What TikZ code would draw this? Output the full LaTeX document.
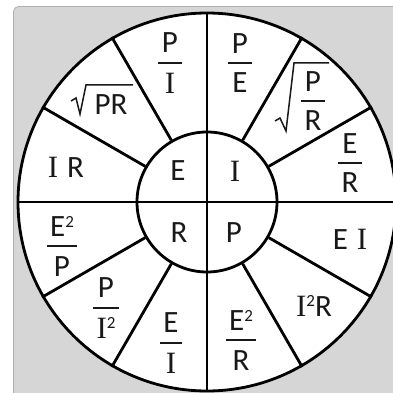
\documentclass[tikz,border=0pt]{standalone}
\usepackage{fontspec}
\setmainfont{Carlito}
\newfontfamily\serifface{Liberation Serif}
\newcommand\Iser{{\serifface I}}
\newcommand\sqr{\raisebox{9.2pt}{\fontsize{17}{20}\selectfont 2}}
\newcommand\fr[2]{\begingroup\setbox0\hbox{#1}\setbox2\hbox{#2}%
  \dimen0=\ifdim\wd0>\wd2 \wd0\else\wd2\fi\advance\dimen0 by 7pt%
  \vbox{\offinterlineskip\halign{\hfil##\hfil\cr\box0\cr\noalign{\kern9pt}%
  \vrule width\dimen0 height 1.9pt depth 0pt\cr\noalign{\kern9pt}\box2\cr}}\endgroup}
\definecolor{bggray}{RGB}{215,214,215}
\definecolor{bgedge}{RGB}{175,175,175}
\definecolor{ink}{RGB}{25,25,25}
\begin{document}
\begin{tikzpicture}[x=1pt,y=-1pt,
  lab/.style={inner sep=0pt, text=ink, font=\fontsize{31}{36}\selectfont},
  ring/.style={circle, draw=black, line width=2.8pt, inner sep=0pt},
  spoke/.style={draw=black, line width=2.8pt},
  rad/.style={draw=ink, line width=1.5pt, line join=miter}]
\useasboundingbox (0,0) rectangle (393,393);
\fill[white] (0,0) rectangle (393,393);
\draw[fill=bggray, draw=bgedge, line width=0.8pt, rounded corners=5pt] (13.5,6.5) rectangle (420,420);
\coordinate (c) at (207,202);
\node[ring, fill=white, minimum size=378pt] (outer) at (c) {};
\node[ring, minimum size=140pt] (inner) at (c) {};
\foreach \a in {30,60,120,150,210,240,300,330}
  \draw[spoke] (inner.\a) -- (outer.\a);
\draw[spoke] (outer.90) -- (outer.270);
\draw[spoke] (outer.180) -- (outer.0);
% inner letters
\node[lab] (nE) at (178,171) {E};
\node[lab] (nI) at (235,171) {\Iser};
\node[lab] (nR) at (179,233) {R};
\node[lab] (nP) at (234,233) {P};
% outer ring
\node[lab] (pi) at (170,63) {\fr{P}{\Iser}};
\node[lab] (pe) at (240,63) {\fr{P}{E}};
\node[lab] (pr) at (111,105) {PR};
\draw[rad] (71,101) -- (76,98) -- (80,114) -- (86,85) -- (133,85);
\node[lab] (ir) at (66,167) {\Iser\hspace{9pt}R};
\node[lab] (pR) at (313,101) {\fr{P}{R}};
\draw[rad] (275,121) -- (280,118) -- (286,131) -- (294,63) -- (329,63);
\node[lab] (er) at (350,163) {\fr{E}{R}};
\node[lab] (ei) at (350,239) {E\hspace{9pt}\Iser};
\node[lab] (i2r) at (314,306) {\Iser\sqr R};
\node[lab] (e2r) at (241,340) {\fr{E\sqr}{R}};
\node[lab] (ei2) at (171,343) {\fr{E}{\Iser}};
\node[lab] (pi2) at (106,308) {\fr{P}{\Iser\sqr}};
\node[lab] (e2p) at (62,246) {\fr{E\sqr}{P}};
\end{tikzpicture}
\end{document}
